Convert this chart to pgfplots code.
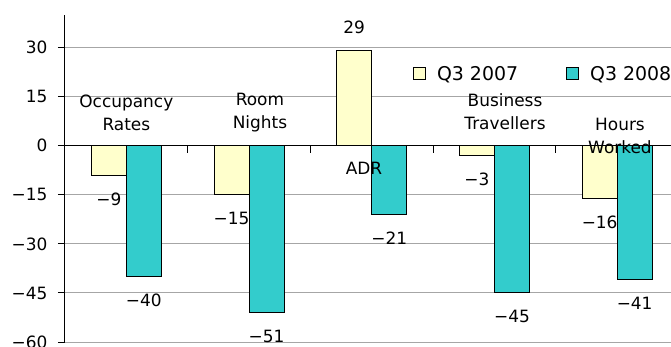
\documentclass[border=0pt]{standalone}
\usepackage{pgfplots}
\pgfplotsset{compat=1.18}
\usepackage{pgfplotstable}
\usepackage{fontspec}
\setmainfont{DejaVu Sans}
\definecolor{c07}{HTML}{FFFFCC}
\definecolor{c08}{HTML}{33CCCC}
\definecolor{gridgray}{HTML}{A6A6A6}
\pgfplotstableread{
x y lab
0 -9 −9
1 -15 −15
2 29 29
3 -3 −3
4 -16 −16
}\tblA
\pgfplotstableread{
x y lab
0 -40 −40
1 -51 −51
2 -21 −21
3 -45 −45
4 -41 −41
}\tblB
\begin{document}
\begin{tikzpicture}[font=\fontsize{17}{23}\selectfont]
\clip (-65bp,-5bp) rectangle (606bp,342bp);
\begin{axis}[
  at={(0,0)}, anchor=south west,
  scale only axis, width=613.5bp, height=327bp,
  xmin=-0.5, xmax=4.5, ymin=-60, ymax=40,
  clip=false,
  axis x line=none, axis y line=left,
  axis line style={-, black, line width=1bp},
  ytick={-60,-45,...,30}, yticklabels={−60,−45,−30,−15,0,15,30},
  ymajorgrids, grid style={gridgray, line width=1bp},
  tick align=outside, major tick length=7bp,
  tick style={black, line width=1bp},
  yticklabel style={xshift=-7bp},
  ybar=0pt, bar width=35bp,
  point meta=explicit symbolic,
  visualization depends on={rawy \as \rawy},
  nodes near coords={\pgfplotspointmeta},
  every node near coord/.append style={inner ysep=17bp, black,
    anchor=\ifdim\rawy pt<0pt north\else south\fi},
  legend style={draw=none, fill=none, at={(0.567,0.82)}, anchor=west,
    legend columns=2, inner sep=0pt, font=\fontsize{19}{23}\selectfont,
    /tikz/every even column/.append style={column sep=46bp}},
  legend cell align=left,
]
\addplot[fill=c07, draw=black, line width=1bp,
  legend image code/.code={\draw[fill=c07, draw=black, line width=1bp] (0bp,-6bp) rectangle (12bp,6bp); \path (21bp,0bp);}]
  table[x=x, y=y, meta=lab]{\tblA};
\addplot[fill=c08, draw=black, line width=1bp,
  legend image code/.code={\draw[fill=c08, draw=black, line width=1bp] (0bp,-6bp) rectangle (12bp,6bp); \path (21bp,0bp);}]
  table[x=x, y=y, meta=lab]{\tblB};
\legend{Q3 2007, Q3 2008}
\draw[black, line width=1bp] (axis cs:-0.5,0) -- (axis cs:4.5,0);
\draw[black, line width=1bp] (axis cs:0.5,0) -- (axis cs:0.5,-2.15);
\draw[black, line width=1bp] (axis cs:1.5,0) -- (axis cs:1.5,-2.15);
\draw[black, line width=1bp] (axis cs:2.5,0) -- (axis cs:2.5,-2.15);
\draw[black, line width=1bp] (axis cs:3.5,0) -- (axis cs:3.5,-2.15);
\node[align=center] at (axis cs:0.0,10.1) {Occupancy\\Rates};
\node[align=center] at (axis cs:1.089,10.1) {Room\\Nights};
\node at (axis cs:1.937,-6.75) {ADR};
\node[align=center] at (axis cs:3.086,10.3) {Business\\Travellers};
\node[align=center] at (axis cs:4.023,2.9) {Hours\\Worked};
\end{axis}
\end{tikzpicture}
\end{document}
